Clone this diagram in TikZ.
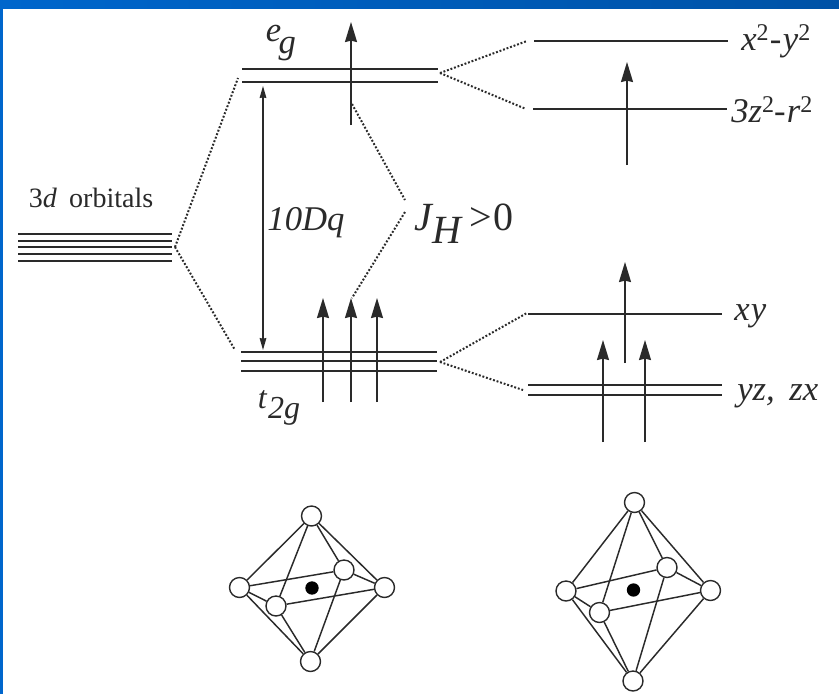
\documentclass[tikz,border=0pt]{standalone}
\usepackage{fontspec}
\setmainfont{Liberation Serif}
\usepackage{xcolor}
\usepackage{tikz}
\usetikzlibrary{arrows.meta, positioning}
\definecolor{slideblue}{HTML}{0066CC}
\definecolor{slidedark}{HTML}{0052A6}
\definecolor{inkgray}{HTML}{2A2A2A}
\newcommand{\lowered}[1]{\raisebox{-0.32em}{#1}}
\newcommand{\raised}[1]{\raisebox{0.28em}{\fontsize{18pt}{19pt}\selectfont\upshape #1}}

\begin{document}
\begin{tikzpicture}[
  x=0.75pt, y=-0.75pt,
  level/.style={draw=inkgray, line width=1.05pt},
  spin/.style={-{Stealth[length=15pt, width=9pt, inset=1pt]}, draw=inkgray, line width=1.05pt},
  gap/.style={{Stealth[length=9pt, width=5pt, inset=0.5pt]}-{Stealth[length=9pt, width=5pt, inset=0.5pt]}, draw=inkgray, line width=0.95pt},
  link/.style={draw=inkgray, line width=1.5pt, dash pattern=on 1.4pt off 1.4pt},
  ligand/.style={circle, draw=inkgray, fill=white, line width=1.05pt, minimum size=15pt, inner sep=0pt},
  metal/.style={circle, fill=black, minimum size=10pt, inner sep=0pt},
  bond/.style={draw=inkgray, line width=1.1pt},
  label/.style={font=\fontsize{26pt}{28pt}\selectfont\itshape, text=inkgray, inner sep=0pt}
]
\useasboundingbox (0,0) rectangle (839,694);

% Slide frame
\fill[white] (0,0) rectangle (839,694);
\shade[left color=slideblue, right color=slidedark] (0,0) rectangle (839,8);
\fill[slideblue] (0,0) rectangle (3,694);

% Free level
\foreach \y in {234,241,247,254,261} {
  \draw[level] (18,\y) -- (172,\y);
}
\node[font=\fontsize{21pt}{23pt}\selectfont, text=inkgray, inner sep=0pt] (free) at (91,198) {3\textit{d}\hspace{4pt} orbitals};
\coordinate (freeout) at (175,247);

% Cubic levels
\draw[level] (242,69) -- (438,69);
\draw[level] (242,82) -- (438,82);
\draw[level] (241,352) -- (437,352);
\draw[level] (241,361) -- (437,361);
\draw[level] (241,371) -- (437,371);
\node[label] (eg) at (281,43) {e\hspace{-2pt}\lowered{g}};
\node[label, font=\fontsize{24pt}{26pt}\selectfont\itshape] (tg) at (279,408) {t\hspace{1pt}\lowered{2g}};
\node[label] (dq) at (306,223) {10Dq};
\node[label, font=\fontsize{30pt}{32pt}\selectfont\itshape] (jh) at (464,224) {J\lowered{H}\hspace{6pt}\upshape{>}\hspace{1pt}0};

% Split levels
\draw[level] (534,41) -- (728,41);
\draw[level] (533,109) -- (727,109);
\draw[level] (528,314) -- (722,314);
\draw[level] (528,385) -- (722,385);
\draw[level] (528,395) -- (722,395);
\node[label, anchor=west] (xtwo) at (741,41) {x\raised{2}\hspace{1pt}-\hspace{1pt}y\raised{2}};
\node[label, anchor=west] (ztwo) at (731,110) {3z\raised{2}-\hspace{1pt}r\raised{2}};
\node[label, anchor=west] (xy) at (734,316) {x\hspace{1pt}y};
\node[label, anchor=west] (yz) at (737,396) {yz,\hspace{4.5pt} zx};

% Spins
\coordinate (egfoot) at (351,125);
\coordinate (eghead) at (351,22);
\coordinate (tafoot) at (323,402);
\coordinate (tahead) at (323,298);
\coordinate (tbfoot) at (351,402);
\coordinate (tbhead) at (351,298);
\coordinate (tcfoot) at (377,402);
\coordinate (tchead) at (377,298);
\draw[spin] (egfoot) -- (eghead);
\draw[spin] (tafoot) -- (tahead);
\draw[spin] (tbfoot) -- (tbhead);
\draw[spin] (tcfoot) -- (tchead);
\coordinate (zfoot) at (627,165);
\coordinate (zhead) at (627,62);
\coordinate (xyfoot) at (625,363);
\coordinate (xyhead) at (625,262);
\coordinate (yafoot) at (603,442);
\coordinate (yahead) at (603,340);
\coordinate (ybfoot) at (645,442);
\coordinate (ybhead) at (645,340);
\draw[spin] (zfoot) -- (zhead);
\draw[spin] (xyfoot) -- (xyhead);
\draw[spin] (yafoot) -- (yahead);
\draw[spin] (ybfoot) -- (ybhead);

% Gap
\coordinate (gaptop) at (263,86);
\coordinate (gapbot) at (263,350);
\draw[gap] (gaptop) -- (gapbot);

% Dotted links
\coordinate (egleft) at (238,78);
\coordinate (tgleft) at (235,350);
\coordinate (egright) at (440,73);
\coordinate (tgright) at (440,362);
\coordinate (xtwoin) at (527,41);
\coordinate (ztwoin) at (526,109);
\coordinate (xyin) at (527,313);
\coordinate (yzin) at (523,390);
\coordinate (jhup) at (405,200);
\coordinate (jhdown) at (405,212);
\coordinate (egspin) at (352,104);
\coordinate (tgspin) at (352,298);
\draw[link] (freeout) -- (egleft);
\draw[link] (freeout) -- (tgleft);
\draw[link] (egright) -- (xtwoin);
\draw[link] (egright) -- (ztwoin);
\draw[link] (tgright) -- (xyin);
\draw[link] (tgright) -- (yzin);
\draw[link] (egspin) -- (jhup);
\draw[link] (jhdown) -- (tgspin);

% Regular octahedron
\node[ligand] (atop) at (311.5,516) {};
\node[ligand] (aleft) at (239.5,587.5) {};
\node[ligand] (aright) at (384.5,587.5) {};
\node[ligand] (abot) at (310.5,661.5) {};
\node[ligand] (afront) at (276,606) {};
\node[ligand] (aback) at (344,570) {};
\node[metal] (acore) at (312,588) {};
\foreach \a/\b in {atop/aleft, atop/aright, atop/afront, atop/aback,
                   abot/aleft, abot/aright, abot/afront, abot/aback,
                   aleft/aback, aleft/afront, aright/afront, aright/aback} {
  \draw[bond] (\a) -- (\b);
}

% Elongated octahedron
\node[ligand] (btop) at (634.5,502.5) {};
\node[ligand] (bleft) at (566,591) {};
\node[ligand] (bright) at (710.5,590.5) {};
\node[ligand] (bbot) at (633,681) {};
\node[ligand] (bfront) at (599.5,612.5) {};
\node[ligand] (bback) at (667,567.5) {};
\node[metal] (bcore) at (633.5,590) {};
\foreach \a/\b in {btop/bleft, btop/bright, btop/bfront, btop/bback,
                   bbot/bleft, bbot/bright, bbot/bfront, bbot/bback,
                   bleft/bback, bleft/bfront, bright/bfront, bright/bback} {
  \draw[bond] (\a) -- (\b);
}

\end{tikzpicture}
\end{document}
